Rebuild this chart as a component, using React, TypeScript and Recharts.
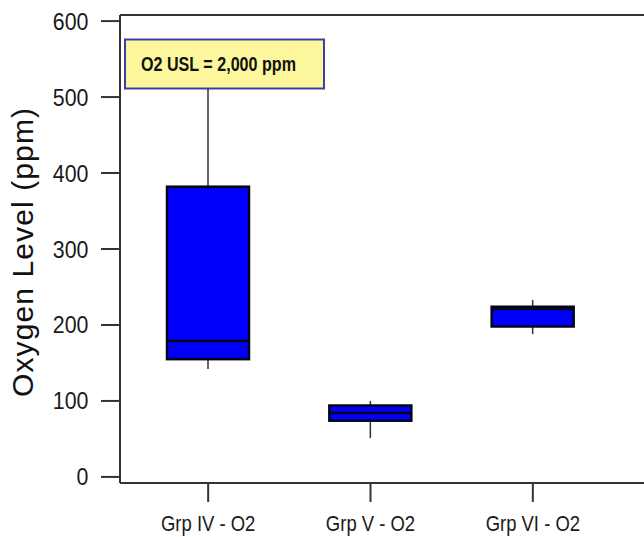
import React, { useEffect } from 'react';
import { ComposedChart, Bar, XAxis, YAxis } from 'recharts';

const categories = ['Grp IV - O2', 'Grp V - O2', 'Grp VI - O2'];
const minVals = [142, 51, 188];
const q1Vals = [155, 74, 198];
const medianVals = [179, 84, 221];
const q3Vals = [382, 94, 224];
const maxVals = [512, 100, 233];
const yTicks = [0, 100, 200, 300, 400, 500, 600];
const yDomain = [-8, 608];
const yLabel = 'Oxygen Level (ppm)';
const noteText = 'O2 USL = 2,000 ppm';

const data = categories.map((name, i) => ({
  name,
  range: [minVals[i], maxVals[i]],
  min: minVals[i],
  q1: q1Vals[i],
  median: medianVals[i],
  q3: q3Vals[i],
  max: maxVals[i],
}));

const FONT = '"Liberation Sans", Arial, sans-serif';
const AXIS = '#333333';

const BoxShape = (props: any) => {
  const { x, y, width, height, payload } = props;
  if (!payload) return null;
  const top = Math.min(y, y + height);
  const bottom = Math.max(y, y + height);
  const span = payload.max - payload.min;
  const k = span > 0 ? (bottom - top) / span : 0;
  const py = (v: number) => bottom - (v - payload.min) * k;
  const cx = x + width / 2;
  return (
    <g>
      <line x1={cx} x2={cx} y1={py(payload.max)} y2={py(payload.q3)} stroke={AXIS} strokeWidth={1.5} />
      <line x1={cx} x2={cx} y1={py(payload.q1)} y2={py(payload.min)} stroke={AXIS} strokeWidth={1.5} />
      <rect
        x={x}
        y={py(payload.q3)}
        width={width}
        height={py(payload.q1) - py(payload.q3)}
        fill="#0000FA"
        stroke="#05051a"
        strokeWidth={2.5}
      />
      <line x1={x} x2={x + width} y1={py(payload.median)} y2={py(payload.median)} stroke="#05051a" strokeWidth={2.5} />
    </g>
  );
};

const XTick = (props: any) => {
  const { x, y, payload } = props;
  return (
    <g transform={`translate(${x}, ${y + 29}) scale(0.84, 1)`}>
      <text x={0} y={0} textAnchor="middle" fontSize={22} fontFamily={FONT} fill="#1a1a1a">
        {payload.value}
      </text>
    </g>
  );
};

const YTick = (props: any) => {
  const { x, y, payload } = props;
  return (
    <g transform={`translate(${x - 12.5}, ${y + 8.5}) scale(0.89, 1)`}>
      <text x={0} y={0} textAnchor="end" fontSize={24} fontFamily={FONT} fill="#1a1a1a">
        {payload.value}
      </text>
    </g>
  );
};

const YLabel = () => (
  <text
    transform="translate(33, 252.5) rotate(-90)"
    x={0}
    y={0}
    textAnchor="middle"
    fontSize={30}
    fontFamily={FONT}
    fill="#111"
    textLength={289}
    lengthAdjust="spacing"
  >
    {yLabel}
  </text>
);

export default function App() {
  useEffect(() => {
    document.documentElement.style.overflow = 'hidden';
    document.body.style.overflow = 'hidden';
  }, []);
  return (
    <div style={{ position: 'absolute', left: 0, top: 0, width: 644, height: 537, background: '#fff', overflow: 'hidden' }}>
      <ComposedChart
        width={644}
        height={537}
        data={data}
        margin={{ top: 14, right: 0, bottom: 0, left: 0 }}
        accessibilityLayer={false}
      >
        <XAxis
          dataKey="name"
          type="category"
          height={54}
          padding={{ left: 7, right: 30 }}
          tickSize={19}
          tickMargin={0}
          tick={<XTick />}
          axisLine={{ stroke: AXIS, strokeWidth: 2 }}
          tickLine={{ stroke: AXIS, strokeWidth: 2 }}
          interval={0}
        />
        <XAxis
          xAxisId="frameTop"
          dataKey="name"
          type="category"
          orientation="top"
          height={1}
          tick={false}
          tickLine={false}
          axisLine={{ stroke: AXIS, strokeWidth: 2 }}
        />
        <YAxis
          type="number"
          domain={yDomain}
          ticks={yTicks}
          width={120}
          tickSize={19}
          tickMargin={0}
          tick={<YTick />}
          axisLine={{ stroke: AXIS, strokeWidth: 2 }}
          tickLine={{ stroke: AXIS, strokeWidth: 2 }}
          allowDataOverflow
          label={{ content: () => <YLabel /> }}
        />
        <Bar dataKey="range" barSize={82} shape={<BoxShape />} isAnimationActive={false} />
      </ComposedChart>
      <svg
        width={644}
        height={537}
        style={{ position: 'absolute', left: 0, top: 0, pointerEvents: 'none' }}
      >
        <rect x={125} y={39.5} width={199} height={49} fill="#FCF79C" stroke="#3E3EA8" strokeWidth={2} />
        <text
          x={141}
          y={70.5}
          fontSize={21}
          fontWeight="bold"
          fontFamily={FONT}
          fill="#111"
          textLength={155}
          lengthAdjust="spacingAndGlyphs"
        >
          {noteText}
        </text>
      </svg>
    </div>
  );
}
